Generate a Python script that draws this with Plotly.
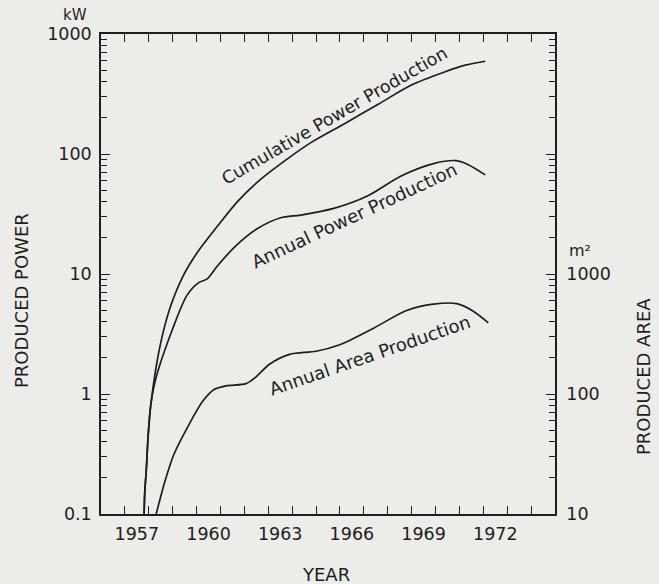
import plotly.graph_objects as go

# ---------------- data ----------------
cum_years = [1957.80, 1957.83, 1957.90, 1957.97, 1958.09, 1958.45, 1958.88, 1959.44,
             1960.03, 1960.88, 1961.72, 1962.69, 1963.83, 1964.80, 1966.19, 1967.62,
             1969.01, 1970.40, 1971.24, 1972.08]
cum_kw = [0.09, 0.15, 0.24, 0.44, 0.83, 2.4, 5.16, 9.66,
          15.1, 25.1, 40.3, 61.7, 92, 125, 179, 261,
          377, 484, 550, 593]

ann_years = [1957.80, 1957.83, 1957.90, 1957.97, 1958.09, 1958.30, 1959.00, 1959.59,
             1960.06, 1960.44, 1960.86, 1961.62, 1962.55, 1963.52, 1964.36, 1965.74,
             1967.17, 1968.56, 1969.95, 1970.87, 1971.37, 1972.08]
ann_kw = [0.09, 0.15, 0.24, 0.44, 0.83, 1.36, 3.5, 6.6,
          8.4, 9.1, 11.6, 17, 23.9, 29.4, 31, 35.2,
          44.9, 65.6, 83.6, 88, 81.5, 67]

area_years = [1958.28, 1958.68, 1959.04, 1959.67, 1960.24, 1960.73, 1961.23, 1962.07,
              1962.49, 1963.05, 1963.89, 1965.01, 1965.99, 1967.39, 1968.79, 1969.91,
              1970.89, 1971.58, 1972.21]
area_m2 = [9.5, 18.8, 31, 55, 86, 109, 117, 122,
           139, 177, 214, 227, 257, 352, 496, 561,
           566, 490, 392]

year_labels = ["1957", "1960", "1963", "1966", "1969", "1972"]
power_ticks = [0.1, 1, 10, 100, 1000]
power_labels = ["0.1", "1", "10", "100", "1000"]
area_ticks = [10, 100, 1000, 10000, 100000]
area_labels = ["10", "100", "1000", "", ""]

# ---------------- styling ----------------
INK = "#1e1e1e"
BG = "#ecece9"
FONT = "DejaVu Sans"
W, H = 659, 584
L, R, T, B = 101, 104, 34, 70


def paper_x(px):
    return (px - L) / (W - L - R)


def paper_y(py):
    return (H - B - py) / (H - T - B)


def minor_log(lo_exp, hi_exp):
    vals = []
    for e in range(lo_exp, hi_exp):
        for m in range(2, 10):
            vals.append(m * 10 ** e)
    return vals


line_style = dict(color=INK, width=1.7, shape="spline", smoothing=0.8)

fig = go.Figure()
fig.add_trace(go.Scatter(x=cum_years, y=cum_kw, mode="lines", line=line_style,
                         name="Cumulative Power Production", yaxis="y"))
fig.add_trace(go.Scatter(x=ann_years, y=ann_kw, mode="lines", line=line_style,
                         name="Annual Power Production", yaxis="y"))
fig.add_trace(go.Scatter(x=area_years, y=area_m2, mode="lines", line=line_style,
                         name="Annual Area Production", yaxis="y2"))

axis_common = dict(showline=True, linecolor=INK, linewidth=1.5, showgrid=False,
                   zeroline=False, tickcolor=INK,
                   tickfont=dict(family=FONT, size=17.5, color=INK))

fig.update_layout(
    width=W, height=H,
    margin=dict(l=L, r=R, t=T, b=B),
    paper_bgcolor=BG, plot_bgcolor=BG,
    showlegend=False,
    font=dict(family=FONT, color=INK),
    xaxis=dict(
        range=[1956, 1975],
        tickvals=[int(y) + 0.5 for y in year_labels],
        ticktext=year_labels,
        ticks="inside", ticklen=0, mirror="ticks",
        minor=dict(tick0=1956, dtick=1, ticks="inside", ticklen=8,
                   tickcolor=INK, tickwidth=1.3),
        ticklabelstandoff=3,
        **axis_common,
    ),
    yaxis=dict(
        type="log", range=[-1, 3],
        tickvals=power_ticks, ticktext=power_labels,
        ticks="inside", ticklen=9, tickwidth=1.3,
        minor=dict(tickvals=minor_log(-1, 3), ticks="inside", ticklen=6,
                   tickcolor=INK, tickwidth=1.2),
        ticklabelstandoff=4,
        **axis_common,
    ),
    yaxis2=dict(
        type="log", range=[1, 5], overlaying="y", side="right", anchor="x",
        tickvals=area_ticks, ticktext=area_labels,
        ticks="inside", ticklen=9, tickwidth=1.3,
        minor=dict(tickvals=minor_log(1, 5), ticks="inside", ticklen=6,
                   tickcolor=INK, tickwidth=1.2),
        ticklabelstandoff=6,
        **axis_common,
    ),
)

annos = [
    dict(text="Cumulative Power Production", px=334, py=116, angle=-30, size=17.5),
    dict(text="Annual Power Production", px=354, py=215, angle=-25, size=18),
    dict(text="Annual Area Production", px=369, py=355, angle=-19, size=18),
    dict(text="kW", px=75, py=15, angle=0, size=15),
    dict(text="m²", px=580, py=251, angle=0, size=16),
    dict(text="PRODUCED POWER", px=21, py=301, angle=-90, size=18),
    dict(text="PRODUCED AREA", px=643, py=377, angle=-90, size=18),
    dict(text="YEAR", px=326, py=574, angle=0, size=18),
]
for a in annos:
    fig.add_annotation(text=a["text"], xref="paper", yref="paper",
                       x=paper_x(a["px"]), y=paper_y(a["py"]),
                       xanchor="center", yanchor="middle", showarrow=False,
                       textangle=a["angle"],
                       font=dict(family=FONT, size=a["size"], color=INK))

fig.write_html(
    "out.html",
    config={"displayModeBar": False},
    post_script="document.body.style.margin='0';document.body.style.overflow='hidden';",
)
